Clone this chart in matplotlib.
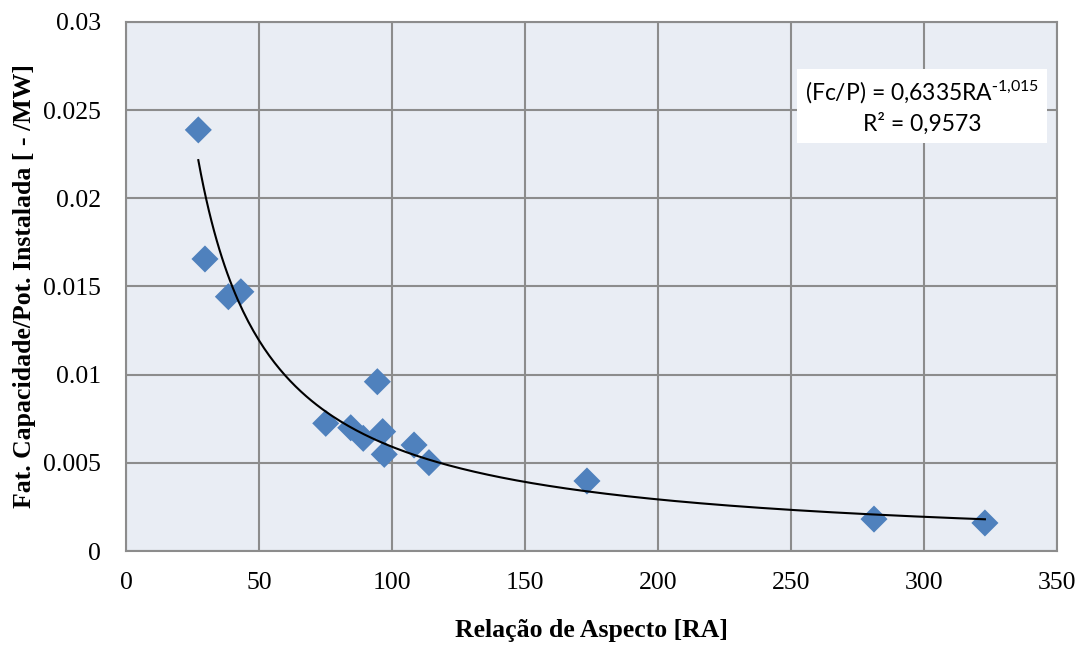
import numpy as np
import matplotlib
matplotlib.use("Agg")
from matplotlib import pyplot as plt

# relacao de aspecto (RA) e fator de capacidade / potencia instalada
ra = [27.2, 29.7, 38.5, 43.2, 75.1, 84.5, 89.2, 94.5, 96.5, 97.1, 108.3, 113.9, 173.3, 281.2, 322.9]
fcp = [0.02388, 0.01656, 0.01442, 0.0147, 0.00724, 0.00699, 0.00639, 0.0096, 0.00677, 0.00548,
       0.00601, 0.00501, 0.00397, 0.00181, 0.00159]

# trendline (potencia)
a = 0.6335
b = -1.015

xticks = [0, 50, 100, 150, 200, 250, 300, 350]
yticks = [0, 0.005, 0.01, 0.015, 0.02, 0.025, 0.03]
ytick_labels = ["0", "0.005", "0.01", "0.015", "0.02", "0.025", "0.03"]

fig = plt.figure(figsize=(10.84, 6.5), dpi=100)
ax = fig.add_axes([0.1162, 0.1523, 0.8589, 0.8139])
ax.set_facecolor("#E9EDF4")

xs = np.linspace(min(ra), max(ra), 300)
ax.plot(xs, a * xs ** b, color="black", lw=1.5, zorder=3)
ax.scatter(ra, fcp, marker="D", s=190, color="#4F81BD", edgecolors="none", zorder=2)

ax.set_xlim(0, 350)
ax.set_ylim(0, 0.03)
ax.set_xticks(xticks)
ax.set_yticks(yticks)
ax.set_yticklabels(ytick_labels)
ax.grid(True, color="#8C8C8C", lw=1.5)
ax.set_axisbelow(True)
ax.tick_params(length=0, labelsize=18.5)
ax.tick_params(axis="x", pad=15)
ax.tick_params(axis="y", pad=18)
for lab in ax.get_xticklabels() + ax.get_yticklabels():
    lab.set_family("Liberation Serif")
for s in ax.spines.values():
    s.set_color("#8C8C8C")
    s.set_linewidth(1.5)

ax.set_xlabel("Relação de Aspecto [RA]", family="Liberation Serif", fontweight="bold",
              fontsize=18.5)
ax.xaxis.set_label_coords(0.5, -0.128)
ax.set_ylabel("Fat. Capacidade/Pot. Instalada [ - /MW]", family="Liberation Serif",
              fontweight="bold", fontsize=18.5)
ax.yaxis.set_label_coords(-0.097, 0.5)

ax.text(299.2, 0.02518, "(Fc/P) = 0,6335RA$\\mathregular{^{\\text{-}1{,}015}}$\nR² = 0,9573",
        family="Lato", fontsize=16.5, ha="center", va="center", linespacing=1.4,
        bbox=dict(facecolor="white", edgecolor="none", pad=6), zorder=4)

fig.savefig("out.png", dpi=100)
